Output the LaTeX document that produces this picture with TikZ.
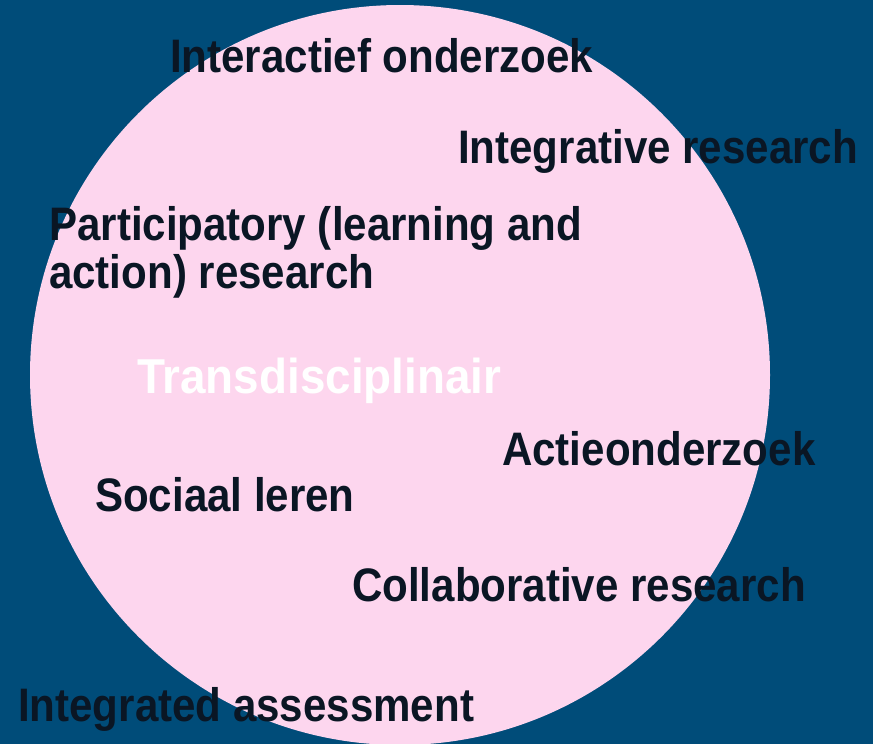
\documentclass[tikz,border=0pt]{standalone}
\usepackage{fontspec}
\setmainfont{Liberation Sans}
\newfontfamily\condfont[FakeStretch=0.895]{Liberation Sans}
\newfontfamily\widefont[FakeStretch=0.935]{Liberation Sans}
\definecolor{bgblue}{RGB}{0,76,121}
\definecolor{pinkfill}{RGB}{253,214,238}
\definecolor{inkdark}{RGB}{10,22,36}
\begin{document}
\begin{tikzpicture}[x=1pt,y=-1pt,
  lbl/.style={anchor=base west, inner sep=0pt, text=inkdark,
    font=\condfont\bfseries\fontsize{47}{48}\selectfont, align=left},
  title/.style={anchor=base west, inner sep=0pt, text=white,
    font=\widefont\bfseries\fontsize{49}{50}\selectfont}]
\useasboundingbox (0,0) rectangle (873,744);
\fill[bgblue] (0,0) rectangle (873,744);
\fill[pinkfill] (400,375) circle[radius=370];
\node[lbl] (interactief) at (170,72) {Interactief onderzoek};
\node[lbl] (integrative) at (458,163) {Integrative research};
\node[lbl] (participatory) at (49,288) {Participatory (learning and\\action) research};
\node[title] (trans) at (137,393) {Transdisciplinair};
\node[lbl] (actie) at (502,465) {Actieonderzoek};
\node[lbl] (sociaal) at (95,511) {Sociaal leren};
\node[lbl] (collab) at (352,601) {Collaborative research};
\node[lbl] (assess) at (18,721) {Integrated assessment};
\end{tikzpicture}
\end{document}
